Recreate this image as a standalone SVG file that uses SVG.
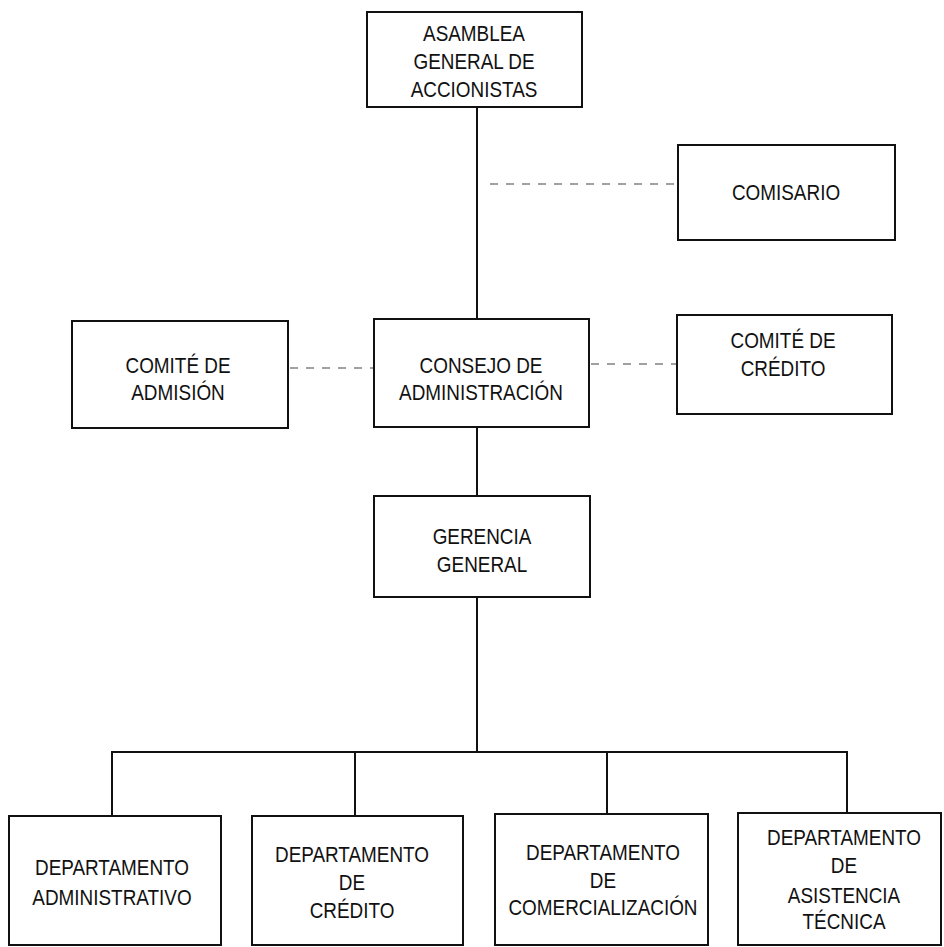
<svg xmlns="http://www.w3.org/2000/svg" width="944" height="947" viewBox="0 0 944 947">
<style>
.box{fill:#fff;stroke:#111;stroke-width:2}
.ln{stroke:#111;stroke-width:2;fill:none}
.dash{stroke:#444;stroke-width:1.2;stroke-dasharray:8 8;fill:none}
text{font-family:"Liberation Sans",Arial,sans-serif;font-size:22px;fill:#111;text-anchor:middle}
</style>
<rect width="944" height="947" fill="#fff"/>
<g id="connectors">
<line class="ln" x1="477" y1="107" x2="477" y2="319"/>
<line class="ln" x1="477" y1="427" x2="477" y2="496"/>
<line class="ln" x1="477" y1="597" x2="477" y2="752"/>
<line class="ln" x1="111" y1="752" x2="848" y2="752"/>
<line class="ln" x1="112" y1="752" x2="112" y2="816"/>
<line class="ln" x1="355" y1="752" x2="355" y2="816"/>
<line class="ln" x1="607" y1="752" x2="607" y2="814"/>
<line class="ln" x1="847" y1="752" x2="847" y2="813"/>
<line class="dash" x1="490" y1="184" x2="678" y2="184"/>
<line class="dash" x1="290" y1="368" x2="374" y2="368"/>
<line class="dash" x1="591" y1="364" x2="677" y2="364"/>
</g>
<g id="asamblea">
<rect class="box" x="367" y="12" width="215" height="95"/>
<text transform="translate(474,41) scale(0.86,1)">ASAMBLEA</text>
<text transform="translate(474,69) scale(0.86,1)">GENERAL DE</text>
<text transform="translate(474,97) scale(0.86,1)">ACCIONISTAS</text>
</g>
<g id="comisario">
<rect class="box" x="678" y="145" width="217" height="95"/>
<text transform="translate(786,200) scale(0.86,1)">COMISARIO</text>
</g>
<g id="comite-admision">
<rect class="box" x="72" y="321" width="216" height="107"/>
<text transform="translate(178,373) scale(0.86,1)">COMITÉ DE</text>
<text transform="translate(178,400) scale(0.86,1)">ADMISIÓN</text>
</g>
<g id="consejo">
<rect class="box" x="374" y="319" width="215" height="108"/>
<text transform="translate(481,373) scale(0.86,1)">CONSEJO DE</text>
<text transform="translate(481,400) scale(0.86,1)">ADMINISTRACIÓN</text>
</g>
<g id="comite-credito">
<rect class="box" x="677" y="315" width="215" height="99"/>
<text transform="translate(783,348) scale(0.86,1)">COMITÉ DE</text>
<text transform="translate(783,376) scale(0.86,1)">CRÉDITO</text>
</g>
<g id="gerencia">
<rect class="box" x="374" y="496" width="216" height="101"/>
<text transform="translate(482,544) scale(0.86,1)">GERENCIA</text>
<text transform="translate(482,572) scale(0.86,1)">GENERAL</text>
</g>
<g id="dep-admin">
<rect class="box" x="9" y="816" width="212" height="129"/>
<text transform="translate(112,875) scale(0.86,1)">DEPARTAMENTO</text>
<text transform="translate(112,905) scale(0.86,1)">ADMINISTRATIVO</text>
</g>
<g id="dep-credito">
<rect class="box" x="252" y="816" width="211" height="129"/>
<text transform="translate(352,862) scale(0.86,1)">DEPARTAMENTO</text>
<text transform="translate(352,890) scale(0.86,1)">DE</text>
<text transform="translate(352,918) scale(0.86,1)">CRÉDITO</text>
</g>
<g id="dep-comercial">
<rect class="box" x="495" y="814" width="213" height="131"/>
<text transform="translate(603,860) scale(0.86,1)">DEPARTAMENTO</text>
<text transform="translate(603,888) scale(0.86,1)">DE</text>
<text transform="translate(603,915) scale(0.86,1)">COMERCIALIZACIÓN</text>
</g>
<g id="dep-asistencia">
<rect class="box" x="738" y="813" width="203" height="132"/>
<text transform="translate(844,845) scale(0.86,1)">DEPARTAMENTO</text>
<text transform="translate(844,873) scale(0.86,1)">DE</text>
<text transform="translate(844,903) scale(0.86,1)">ASISTENCIA</text>
<text transform="translate(844,929) scale(0.86,1)">TÉCNICA</text>
</g>
</svg>
